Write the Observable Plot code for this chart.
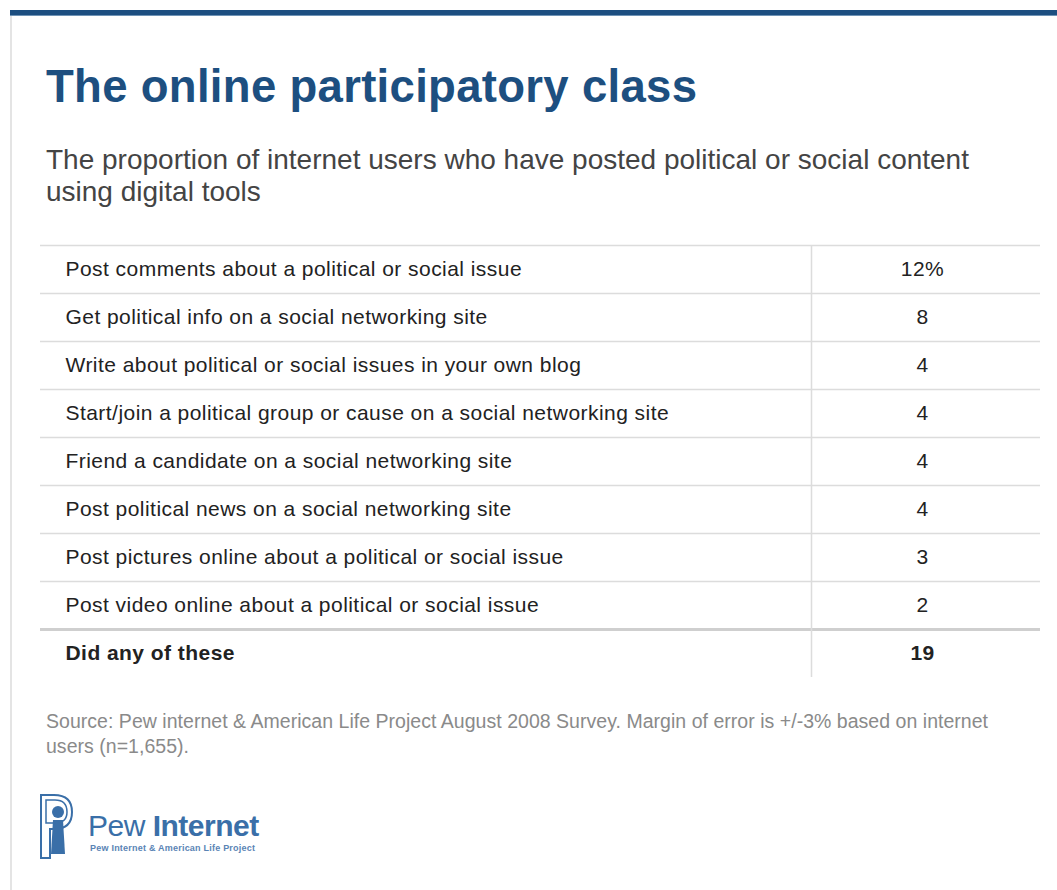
<!DOCTYPE html>
<html>
<head>
<meta charset="utf-8">
<script src="https://cdn.jsdelivr.net/npm/d3@7"></script>
<script src="https://cdn.jsdelivr.net/npm/@observablehq/plot@0.6"></script>
<style>
  html, body { margin: 0; padding: 0; background: #fff; }
  #page { position: relative; width: 1057px; height: 890px; overflow: hidden; font-family: "Liberation Sans", Arial, sans-serif; }
  #topbar { position: absolute; left: 10px; right: 0; top: 10px; height: 5px; background: #1c4e80; border-bottom: 1px solid #6f93b5; }
  #leftline { position: absolute; left: 10px; top: 16px; bottom: 0; width: 2px; background: #e4e4e4; }
  #title { position: absolute; left: 46px; top: 64px; font-size: 45.5px; line-height: 1; font-weight: bold; color: #1d4f80; white-space: nowrap; letter-spacing: 0.3px; }
  #subtitle { position: absolute; left: 46px; top: 144px; font-size: 28px; line-height: 32px; color: #444; width: 940px; }
  #chart { position: absolute; left: 0; top: 243px; }
  #source { position: absolute; left: 46px; top: 709px; font-size: 19.5px; line-height: 25px; color: #8a8a8a; width: 980px; letter-spacing: 0.03px; }
  #logo { position: absolute; left: 38px; top: 792px; }
</style>
</head>
<body>
<div id="page">
  <div id="topbar"></div>
  <div id="leftline"></div>
  <div id="title">The online participatory class</div>
  <div id="subtitle">The proportion of internet users who have posted political or social content using digital tools</div>
  <div id="chart"></div>
  <div id="source">Source: Pew internet &amp; American Life Project August 2008 Survey. Margin of error is +/-3% based on internet<br>users (n=1,655).</div>
  <div id="logo">
    <svg width="240" height="70" viewBox="0 0 240 70">
      <path d="M3 3 H16 Q34 3 34 20 Q34 37 16 37 H12 V66 H3 Z" fill="none" stroke="#3a6fa8" stroke-width="2"/>
      <path d="M8 8 H17 Q29 8 29 20 Q29 31 17 31 H8 Z" fill="none" stroke="#3a6fa8" stroke-width="1.5"/>
      <circle cx="20" cy="20" r="6" fill="#3a6fa8"/>
      <path d="M15 28 H25 L27 62 H13 Z" fill="#3a6fa8"/>
      <text x="50" y="44" font-family="Liberation Sans, Arial" font-size="30" fill="#3a6fa8" letter-spacing="-0.5">Pew <tspan font-weight="bold">Internet</tspan></text>
      <text x="52" y="59" font-family="Liberation Sans, Arial" font-size="9" font-weight="bold" fill="#5a84b5" textLength="165">Pew Internet &amp; American Life Project</text>
    </svg>
  </div>
</div>
<script>
// Data
const activities = [
  "Post comments about a political or social issue",
  "Get political info on a social networking site",
  "Write about political or social issues in your own blog",
  "Start/join a political group or cause on a social networking site",
  "Friend a candidate on a social networking site",
  "Post political news on a social networking site",
  "Post pictures online about a political or social issue",
  "Post video online about a political or social issue"
];
const percents = [12, 8, 4, 4, 4, 4, 3, 2];
const totalLabel = "Did any of these";
const totalValue = 19;

const rows = activities.map((a, i) => ({label: a, value: percents[i], text: i === 0 ? `${percents[i]}%` : `${percents[i]}`}));
const totalRow = [{label: totalLabel, value: totalValue, text: `${totalValue}`}];
const allLabels = [...activities, totalLabel];

const rowH = 48;
const chart = Plot.plot({
  width: 1057,
  height: 2 + rowH * allLabels.length + 2,
  marginTop: 2,
  marginBottom: 2,
  marginLeft: 40,
  marginRight: 246,
  style: {fontFamily: "'Liberation Sans', Arial, sans-serif", background: "transparent", overflow: "visible"},
  x: {domain: [0, 1], axis: null},
  y: {type: "point", domain: allLabels, padding: 0.5, axis: null},
  marks: [
    Plot.ruleY(activities, {y: d => d, dy: -rowH / 2, insetRight: -229, stroke: "#dcdcdc", strokeWidth: 1.5}),
    Plot.ruleY([totalLabel], {y: d => d, dy: -rowH / 2, insetRight: -229, stroke: "#cfcfcf", strokeWidth: 3}),
    Plot.ruleX([1], {stroke: "#dcdcdc", strokeWidth: 1.5}),
    Plot.text(rows, {x: 0, y: "label", text: "label", textAnchor: "start", dx: 25, fontSize: 21, fill: "#222"}),
    Plot.text(rows, {x: 1, y: "label", text: "text", textAnchor: "middle", dx: 111, fontSize: 21, fill: "#222"}),
    Plot.text(totalRow, {x: 0, y: "label", text: "label", textAnchor: "start", dx: 25, fontSize: 21, fontWeight: "bold", fill: "#222"}),
    Plot.text(totalRow, {x: 1, y: "label", text: "text", textAnchor: "middle", dx: 111, fontSize: 21, fontWeight: "bold", fill: "#222"})
  ]
});
chart.querySelectorAll("text").forEach(t => t.style.letterSpacing = "0.45px");
document.getElementById("chart").appendChild(chart);
</script>
</body>
</html>
